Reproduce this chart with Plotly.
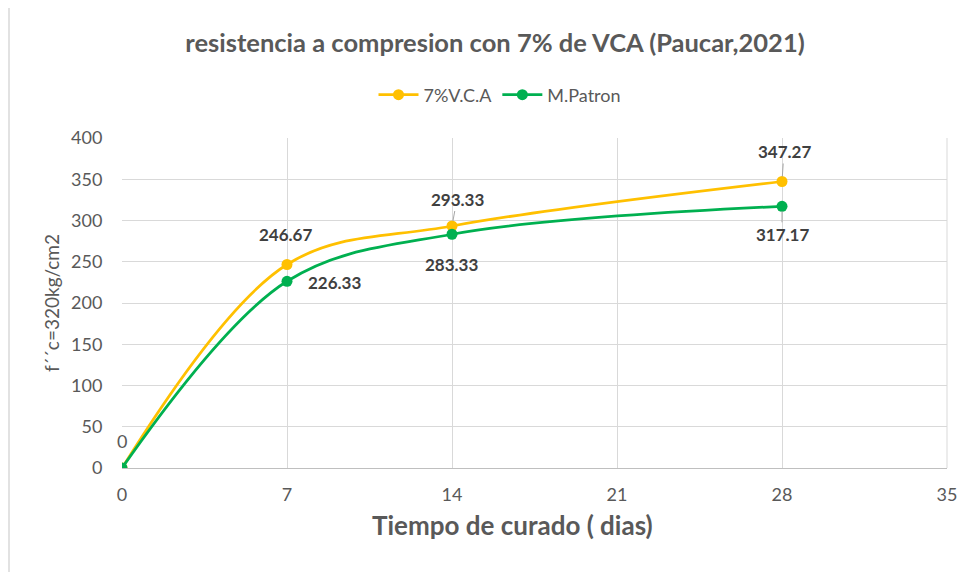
import plotly.graph_objects as go

dias = [0, 7, 14, 28]
vca7 = [0, 246.67, 293.33, 347.27]
patron = [0, 226.33, 283.33, 317.17]
x_ticks = [0, 7, 14, 21, 28, 35]
y_ticks = [0, 50, 100, 150, 200, 250, 300, 350, 400]

YEL = "#FFC000"
GRN = "#00B050"
FONT = "Lato"
LBL = "#404040"
GRAY = "#595959"

W, H = 963, 564
L, R, T, B = 114, 24, 130, 104
PW, PH = W - L - R, H - T - B

fig = go.Figure()
fig.add_trace(go.Scatter(x=dias, y=vca7, name="7%V.C.A", mode="lines+markers",
                         line=dict(color=YEL, width=2.75, shape="spline", smoothing=1.0),
                         marker=dict(size=11, color=YEL)))
fig.add_trace(go.Scatter(x=dias, y=patron, name="M.Patron", mode="lines+markers",
                         line=dict(color=GRN, width=2.75, shape="spline", smoothing=1.0),
                         marker=dict(size=11, color=GRN)))

# data labels (offsets in px)
yel_off = [(0, -27, False), (-2, -30, False), (5, -27, True), (2, -30, True)]
grn_off = [None, (47, 1, False), (-1, 30, False), (0, 28, True)]

def fmt(v):
    return "0" if v == 0 else f"{v:.2f}"

for xs, ys, offs in [(dias, vca7, yel_off), (dias, patron, grn_off)]:
    for xv, yv, off in zip(xs, ys, offs):
        if off is None:
            continue
        dx, dy, arrow = off
        if yv == 0:
            f = dict(family=FONT, size=18, color=GRAY)
        else:
            f = dict(family=FONT, size=17, color=LBL, weight="bold")
        if arrow:
            fig.add_annotation(x=xv, y=yv, text=fmt(yv), showarrow=True, ax=dx, ay=dy,
                               arrowhead=0, arrowwidth=1, arrowcolor="#a6a6a6", standoff=5,
                               font=f)
        else:
            fig.add_annotation(x=xv, y=yv, text=fmt(yv), showarrow=False, xshift=dx, yshift=-dy,
                               font=f)

# x axis title (offset left of plot centre as in the original)
fig.add_annotation(xref="paper", yref="paper", x=(504 - L) / PW, y=-(517 - (H - B)) / PH,
                   xanchor="center", yanchor="middle", showarrow=False,
                   text="<b>Tiempo de curado ( dias)</b>",
                   font=dict(family=FONT, size=26, color=GRAY))

# outer chart border
fig.add_shape(type="rect", xref="paper", yref="paper", x0=-(L - 1) / PW, x1=1.3,
              y0=-0.6, y1=1.4,
              line=dict(color="#d9d9d9", width=1.5), fillcolor="rgba(0,0,0,0)", layer="below")

fig.update_layout(
    width=W, height=H,
    margin=dict(l=L, r=R, t=T, b=B),
    paper_bgcolor="white", plot_bgcolor="white",
    title=dict(text="<b>resistencia a compresion con 7% de VCA (Paucar,2021)</b>",
               x=487 / W, xanchor="center", y=1 - 35 / H, yanchor="middle",
               font=dict(family=FONT, size=25.5, color=GRAY)),
    legend=dict(orientation="h", x=(492 - L) / PW, xanchor="center",
                y=1 + (T - 87) / PH, yanchor="middle",
                font=dict(family=FONT, size=18, color=GRAY), itemwidth=40),
    showlegend=True,
    font=dict(family=FONT),
)
fig.update_xaxes(range=[0, 35], tickvals=x_ticks, showgrid=True, gridcolor="#d9d9d9",
                 gridwidth=1, zeroline=False, showline=True, linecolor="#bfbfbf",
                 mirror=False, ticks="outside", ticklen=10, tickcolor="rgba(0,0,0,0)",
                 automargin=False,
                 tickfont=dict(family=FONT, size=18, color=GRAY))
fig.update_yaxes(range=[0, 400], tickvals=y_ticks, showgrid=True, gridcolor="#d9d9d9",
                 gridwidth=1, zeroline=False, showline=False,
                 ticks="outside", ticklen=15, tickcolor="rgba(0,0,0,0)",
                 automargin=False,
                 tickfont=dict(family=FONT, size=18, color=GRAY),
                 title=dict(text="f´´c=320kg/cm2", standoff=6,
                            font=dict(family=FONT, size=19, color=GRAY)))
# right border of plot area
fig.add_shape(type="line", xref="paper", yref="paper", x0=1, x1=1, y0=0, y1=1,
              line=dict(color="#d9d9d9", width=1))

fig.write_html("out.html")
